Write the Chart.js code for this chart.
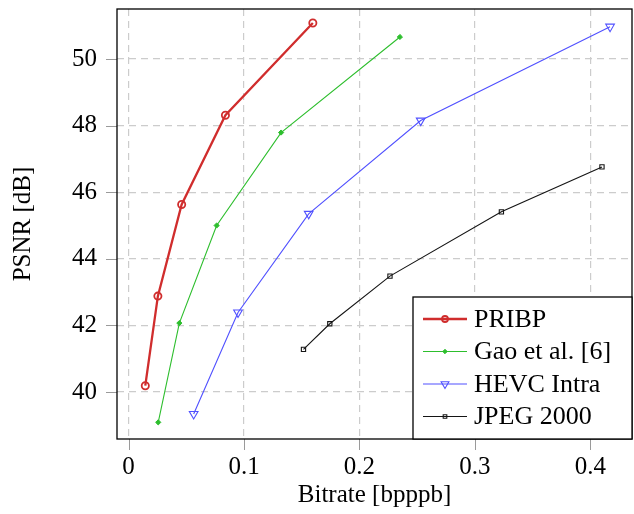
<!DOCTYPE html>
<html><head><meta charset="utf-8">
<script src="https://cdn.jsdelivr.net/npm/chart.js@4/dist/chart.umd.min.js"></script>
<style>html,body{margin:0;padding:0;background:#fff}</style>
</head><body>
<canvas id="c" width="634" height="514"></canvas>
<script>
const seriesNames = ['PRIBP', 'Gao et al. [6]', 'HEVC Intra', 'JPEG 2000'];
const pribpX = [0.0145, 0.0254, 0.046, 0.0839, 0.1596];
const pribpY = [40.19, 42.88, 45.63, 48.31, 51.08];
const gaoX = [0.0257, 0.044, 0.0763, 0.1321, 0.235];
const gaoY = [39.09, 42.07, 45.0, 47.79, 50.66];
const hevcX = [0.0564, 0.0948, 0.156, 0.253, 0.417];
const hevcY = [39.34, 42.39, 45.35, 48.15, 50.97];
const jpegX = [0.1515, 0.1743, 0.2264, 0.3229, 0.410];
const jpegY = [41.28, 42.05, 43.48, 45.41, 46.76];
const xTicks = [0, 0.1, 0.2, 0.3, 0.4];
const yTicks = [40, 42, 44, 46, 48, 50];
const xTitle = 'Bitrate [bpppb]';
const yTitle = 'PSNR [dB]';

const FONT = "'Liberation Serif', 'Times New Roman', serif";
const pts = (xs, ys) => xs.map((x, i) => ({x: x, y: ys[i]}));

const datasets = [
  {label: seriesNames[0], data: pts(pribpX, pribpY), borderColor: 'rgb(208,45,45)', backgroundColor: 'rgba(0,0,0,0)',
   borderWidth: 2.3, pointStyle: 'circle', pointRadius: 3.6, pointBorderWidth: 1.8, pointRotation: 0},
  {label: seriesNames[1], data: pts(gaoX, gaoY), borderColor: 'rgb(45,190,45)', backgroundColor: 'rgb(45,190,45)',
   borderWidth: 1.1, pointStyle: 'rectRot', pointRadius: 2.6, pointBorderWidth: 1, pointRotation: 0},
  {label: seriesNames[2], data: pts(hevcX, hevcY), borderColor: 'rgb(80,80,255)', backgroundColor: 'rgba(0,0,0,0)',
   borderWidth: 1.1, pointStyle: 'triangle', pointRadius: 5, pointBorderWidth: 1.1, pointRotation: 180},
  {label: seriesNames[3], data: pts(jpegX, jpegY), borderColor: 'rgb(20,20,20)', backgroundColor: 'rgba(0,0,0,0)',
   borderWidth: 1.1, pointStyle: 'rect', pointRadius: 3, pointBorderWidth: 1.1, pointRotation: 0}
];
datasets.forEach(d => {
  d.showLine = true; d.fill = false; d.tension = 0;
  d.pointBorderColor = d.borderColor; d.pointBackgroundColor = d.backgroundColor;
  d.pointHoverRadius = d.pointRadius;
});

const noPad = s => { s.paddingTop = 0; s.paddingBottom = 0; s.paddingLeft = 0; s.paddingRight = 0; };

const framePlugin = {
  id: 'frame',
  beforeDatasetsDraw(chart) {
    const ctx = chart.ctx, a = chart.chartArea;
    const xs = chart.scales.x, ys = chart.scales.y;
    ctx.save();
    ctx.strokeStyle = '#9a9a9a';
    ctx.lineWidth = 1;
    ctx.setLineDash([]);
    xTicks.forEach(v => {
      const px = Math.round(xs.getPixelForValue(v)) + 0.5;
      ctx.beginPath(); ctx.moveTo(px, a.bottom); ctx.lineTo(px, a.bottom + 11); ctx.stroke();
    });
    yTicks.forEach(v => {
      const py = Math.round(ys.getPixelForValue(v)) + 0.5;
      ctx.beginPath(); ctx.moveTo(a.left - 11, py); ctx.lineTo(a.left, py); ctx.stroke();
    });
    ctx.strokeStyle = '#000';
    ctx.lineWidth = 1.3;
    ctx.strokeRect(a.left, a.top, a.right - a.left, a.bottom - a.top);
    ctx.restore();
  },
  afterDatasetsDraw(chart) {
    const ctx = chart.ctx, a = chart.chartArea;
    const bw = 219, bh = 142;
    const bx = a.right - bw, by = a.bottom - bh;
    ctx.save();
    ctx.fillStyle = '#fff';
    ctx.fillRect(bx, by, bw, bh);
    ctx.strokeStyle = '#000';
    ctx.lineWidth = 1.3;
    ctx.setLineDash([]);
    ctx.strokeRect(bx, by, bw, bh);
    ctx.font = "26px " + FONT;
    ctx.textBaseline = 'middle';
    ctx.textAlign = 'left';
    chart.data.datasets.forEach((d, i) => {
      const cy = by + 22 + i * 32.5;
      ctx.strokeStyle = d.borderColor;
      ctx.lineWidth = d.borderWidth;
      ctx.beginPath(); ctx.moveTo(bx + 10, cy); ctx.lineTo(bx + 54, cy); ctx.stroke();
      ctx.fillStyle = d.backgroundColor;
      ctx.lineWidth = d.pointBorderWidth;
      const r = d.pointStyle === 'circle' ? 3 : (d.pointStyle === 'triangle' ? 4.5 : d.pointRadius * 0.85);
      Chart.helpers.drawPoint(ctx, {pointStyle: d.pointStyle, rotation: d.pointRotation, radius: r, borderWidth: d.pointBorderWidth}, bx + 32, cy);
      ctx.fillStyle = '#000';
      ctx.fillText(d.label, bx + 61, cy + 1);
    });
    ctx.restore();
  }
};

new Chart(document.getElementById('c'), {
  type: 'scatter',
  data: {datasets: datasets},
  options: {
    responsive: false,
    devicePixelRatio: 1,
    animation: false,
    events: [],
    layout: {autoPadding: false, padding: {top: 9, right: 2, left: 0, bottom: 0}},
    plugins: {legend: {display: false}, tooltip: {enabled: false}},
    scales: {
      x: {
        type: 'linear', min: -0.01, max: 0.436,
        afterBuildTicks: s => { s.ticks = xTicks.map(v => ({value: v})); },
        afterFit: s => { s.height = 75; noPad(s); },
        ticks: {font: {family: FONT, size: 25}, color: '#000', padding: 13,
                callback: v => String(v)},
        grid: {color: '#cccccc', lineWidth: 1.2, drawTicks: false},
        border: {display: false, dash: [7, 5]},
        title: {display: true, text: xTitle, font: {family: FONT, size: 25}, color: '#000', padding: {top: 0, bottom: 4}}
      },
      y: {
        type: 'linear', min: 38.59, max: 51.5,
        afterBuildTicks: s => { s.ticks = yTicks.map(v => ({value: v})); },
        afterFit: s => { s.width = 117; noPad(s); },
        ticks: {font: {family: FONT, size: 25}, color: '#000', padding: 20,
                callback: v => String(v)},
        grid: {color: '#cccccc', lineWidth: 1.2, drawTicks: false},
        border: {display: false, dash: [7, 5]},
        title: {display: true, text: yTitle, font: {family: FONT, size: 25}, color: '#000', padding: {top: 8, bottom: 0}}
      }
    }
  },
  plugins: [framePlugin]
});
</script>
</body></html>
